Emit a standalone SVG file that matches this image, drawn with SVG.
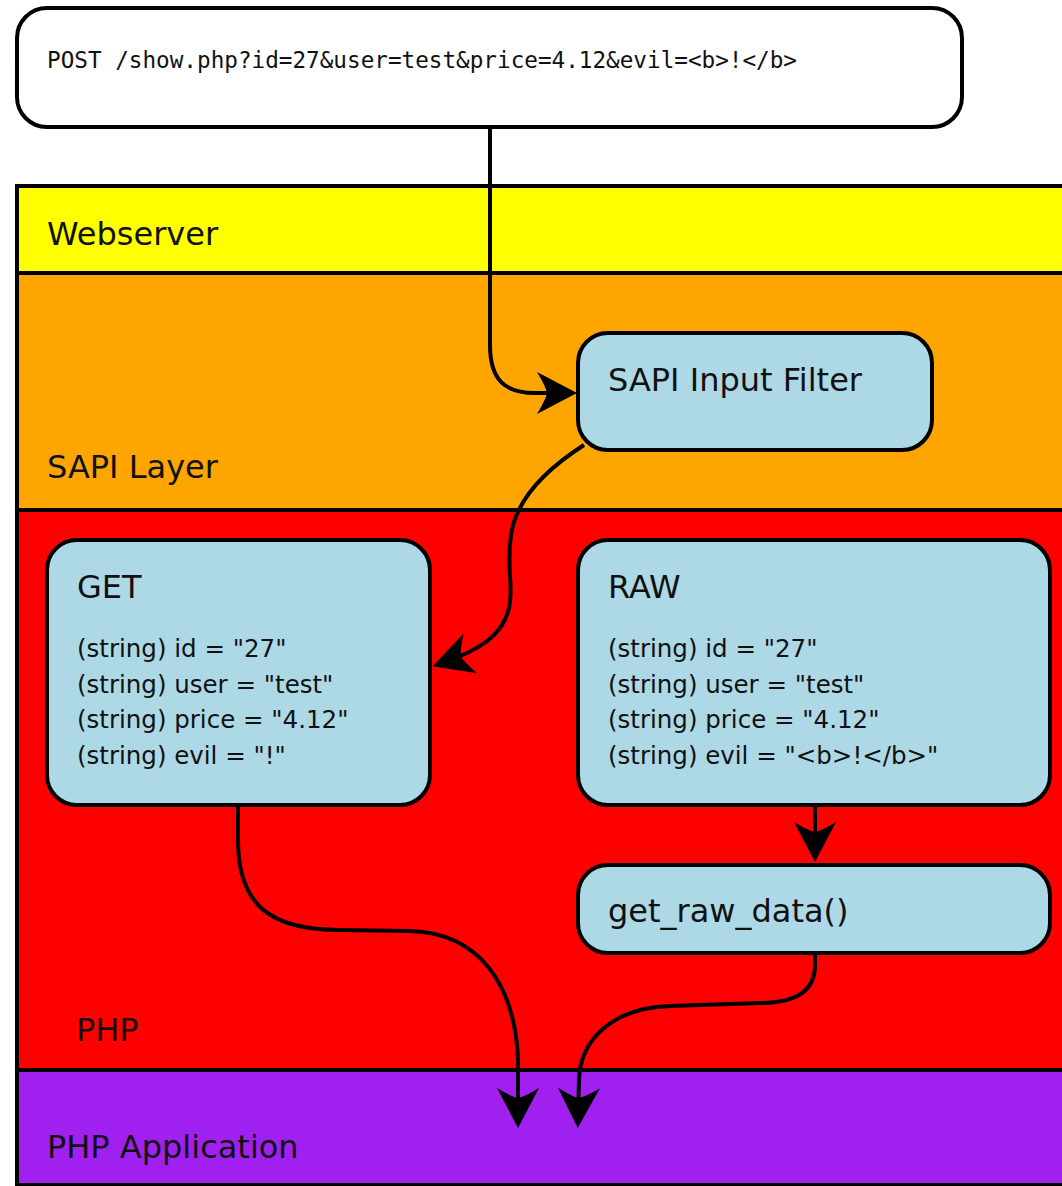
<svg xmlns="http://www.w3.org/2000/svg" width="1062" height="1186" viewBox="0 0 1062 1186">
  <style>
    .layer { stroke: #000; stroke-width: 4; }
    .node { fill: #add8e6; stroke: #000; stroke-width: 4; }
    .lbl { font-family: "DejaVu Sans", "Liberation Sans", sans-serif; font-size: 32px; fill: #111; }
    .body { font-family: "DejaVu Sans", "Liberation Sans", sans-serif; font-size: 24.5px; fill: #111; }
    .mono { font-family: "DejaVu Sans Mono", "Liberation Mono", monospace; font-size: 22.5px; fill: #111; }
    .conn { fill: none; stroke: #000; stroke-width: 4; }
  </style>
  <defs>
    <marker id="arr" markerUnits="userSpaceOnUse" markerWidth="60" markerHeight="60" viewBox="-40 -30 60 60" refX="0" refY="0" orient="auto" overflow="visible">
      <path d="M10,0 L-30,-21 Q-21,-6 -20,0 Q-21,6 -30,21 Z" fill="#000"/>
    </marker>
  </defs>
  <rect width="1062" height="1186" fill="#fff"/>

  <g id="layer-webserver">
    <rect class="layer" x="17" y="186" width="1070" height="87" fill="#ffff00"/>
    <text class="lbl" x="47" y="245">Webserver</text>
  </g>
  <g id="layer-sapi">
    <rect class="layer" x="17" y="273" width="1070" height="237" fill="#ffa500"/>
    <text class="lbl" x="47" y="478">SAPI Layer</text>
  </g>
  <g id="layer-php">
    <rect class="layer" x="17" y="510" width="1070" height="560" fill="#ff0000"/>
    <text class="lbl" x="76" y="1041">PHP</text>
  </g>
  <g id="layer-app">
    <rect class="layer" x="17" y="1070" width="1070" height="115" fill="#a020f0"/>
    <text class="lbl" x="47" y="1158">PHP Application</text>
  </g>

  <g id="request">
    <rect x="17" y="8" width="945" height="119" rx="30" fill="#fff" stroke="#000" stroke-width="4"/>
    <text class="mono" x="47" y="68" textLength="750" lengthAdjust="spacingAndGlyphs">POST /show.php?id=27&amp;user=test&amp;price=4.12&amp;evil=&lt;b&gt;!&lt;/b&gt;</text>
  </g>

  <g id="sapi-input-filter">
    <rect class="node" x="578" y="333" width="354" height="117" rx="30"/>
    <text class="lbl" x="608" y="391">SAPI Input Filter</text>
  </g>

  <g id="get">
    <rect class="node" x="47" y="540" width="383" height="265" rx="30"/>
    <text class="lbl" x="77" y="598">GET</text>
    <text class="body" x="77" y="657">(string) id = "27"</text>
    <text class="body" x="77" y="693">(string) user = "test"</text>
    <text class="body" x="77" y="728">(string) price = "4.12"</text>
    <text class="body" x="77" y="764">(string) evil = "!"</text>
  </g>

  <g id="raw">
    <rect class="node" x="578" y="540" width="472" height="265" rx="30"/>
    <text class="lbl" x="608" y="598">RAW</text>
    <text class="body" x="608" y="657">(string) id = "27"</text>
    <text class="body" x="608" y="693">(string) user = "test"</text>
    <text class="body" x="608" y="728">(string) price = "4.12"</text>
    <text class="body" x="608" y="764">(string) evil = "&lt;b&gt;!&lt;/b&gt;"</text>
  </g>

  <g id="get-raw-data">
    <rect class="node" x="578" y="865" width="472" height="88" rx="30"/>
    <text class="lbl" x="608" y="922">get_raw_data()</text>
  </g>

  <g id="connectors">
    <path class="conn" marker-end="url(#arr)" d="M490,127 L490,345 C490,380 505,393 535,393 L567,393"/>
    <path class="conn" marker-end="url(#arr)" d="M584,445 C545,470 516,500 511,535 C506,570 514,585 509,608 C503,635 480,650 442,663"/>
    <path class="conn" marker-end="url(#arr)" d="M815,805 L815,852"/>
    <path class="conn" marker-end="url(#arr)" d="M238,805 L238,840 C238,905 270,930 340,930 L410,931 C480,933 515,985 518,1060 L518,1118"/>
    <path class="conn" marker-end="url(#arr)" d="M815,953 L815,965 C815,993 792,1003 760,1003 L670,1006 C612,1008 580,1040 579,1080 L578,1118"/>
  </g>
</svg>
